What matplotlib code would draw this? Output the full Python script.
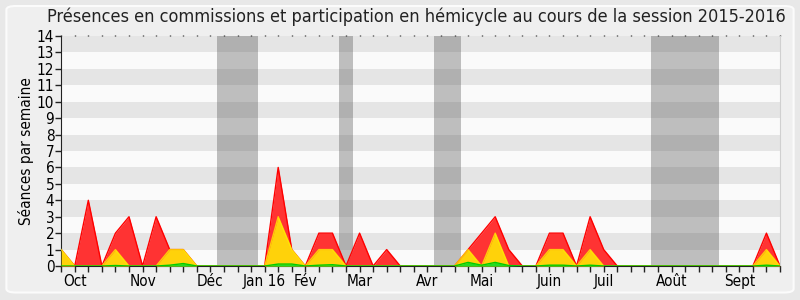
import matplotlib
matplotlib.use("Agg")
import matplotlib.pyplot as plt
from matplotlib.patches import FancyBboxPatch
import numpy as np

# weekly values, session 2015-2016 (54 weeks)
total = [1, 0, 4, 0, 2, 3, 0, 3, 1, 1, 0, 0, 0, 0, 0, 0, 6, 1, 0, 2,
         2, 0, 2, 0, 1, 0, 0, 0, 0, 0, 1, 2, 3, 1, 0, 0, 2, 2, 0, 3,
         1, 0, 0, 0, 0, 0, 0, 0, 0, 0, 0, 0, 2, 0]
commission = [1, 0, 0, 0, 1, 0, 0, 0, 1, 1, 0, 0, 0, 0, 0, 0, 3, 1, 0, 1,
              1, 0, 0, 0, 0, 0, 0, 0, 0, 0, 1, 0, 2, 0, 0, 0, 1, 1, 0, 1,
              0, 0, 0, 0, 0, 0, 0, 0, 0, 0, 0, 0, 1, 0]
hemicycle = [0, 0, 0, 0, 0.03, 0, 0, 0, 0.05, 0.15, 0, 0, 0, 0, 0, 0, 0.12, 0.12, 0, 0.05,
             0.08, 0, 0, 0, 0, 0, 0, 0, 0, 0, 0.22, 0.05, 0.22, 0.03, 0, 0, 0.05, 0.05, 0, 0.05,
             0, 0, 0, 0, 0, 0, 0, 0, 0, 0, 0, 0, 0.05, 0]
vacances = [(11.5, 14.5), (20.5, 21.5), (27.5, 29.5), (43.5, 48.5)]
mois = {1: "Oct", 6: "Nov", 11: "Déc", 15: "Jan 16", 18: "Fév", 22: "Mar",
        27: "Avr", 31: "Mai", 36: "Juin", 40: "Juil", 45: "Août", 50: "Sept"}

semaines = np.arange(len(total))

plt.rcParams["font.family"] = ["DejaVu Sans"]
plt.rcParams["font.stretch"] = "condensed"

fig = plt.figure(figsize=(8, 3), dpi=100, facecolor="#e8e8e8")
cadre = FancyBboxPatch((0.008, 0.025), 0.984, 0.955, boxstyle="round,pad=0,rounding_size=0.012",
                       transform=fig.transFigure, facecolor="#efefef", edgecolor="#fbfbfb", lw=1.5, zorder=-10)
fig.patches.append(cadre)
ax = fig.add_axes([0.0765, 0.1133, 0.8985, 0.7667])
ax.set_facecolor("#fafafa")

for k in range(1, 14, 2):
    ax.axhspan(k, k + 1, color="#e5e5e5", lw=0, zorder=0)
for a, b in vacances:
    ax.axvspan(a, b, color="#464646", alpha=0.33, lw=0, zorder=1)

ax.fill_between(semaines, 0, total, color="#ff3333", lw=0, zorder=2)
ax.plot(semaines, total, color="#ff0000", lw=1, zorder=2)
ax.fill_between(semaines, 0, commission, color="#ffd20a", lw=0, zorder=3)
ax.plot(semaines, commission, color="#ffee00", lw=1, alpha=0.8, zorder=3)
ax.fill_between(semaines, 0, hemicycle, color="#22dd22", lw=0, zorder=4)
ax.plot(semaines, hemicycle, color="#00cc00", lw=1, zorder=4)

ax.set_xlim(0, len(total) - 1)
ax.set_ylim(0, 14)
ax.set_yticks(range(15))
ax.set_xticks(semaines)
ax.set_xticklabels([mois.get(i, "") for i in semaines])
ax.tick_params(axis="both", labelsize=11, length=4, width=1, color="#222222", pad=2)
ax.tick_params(axis="y", pad=1)
ax.tick_params(axis="x", top=True, length=4)
for t in ax.xaxis.get_major_ticks():
    t.tick2line.set_markersize(1)

ax.spines["top"].set_visible(False)
ax.spines["right"].set_color("#d0d0d0")
ax.spines["left"].set_color("#222222")
ax.spines["bottom"].set_color("#222222")
ax.set_ylabel("Séances par semaine", fontsize=11, labelpad=2)
fig.text(0.52, 0.943, "Présences en commissions et participation en hémicycle au cours de la session 2015-2016",
         ha="center", va="center", fontsize=13, color="#222222")

fig.savefig("out.png", dpi=100, facecolor=fig.get_facecolor())
